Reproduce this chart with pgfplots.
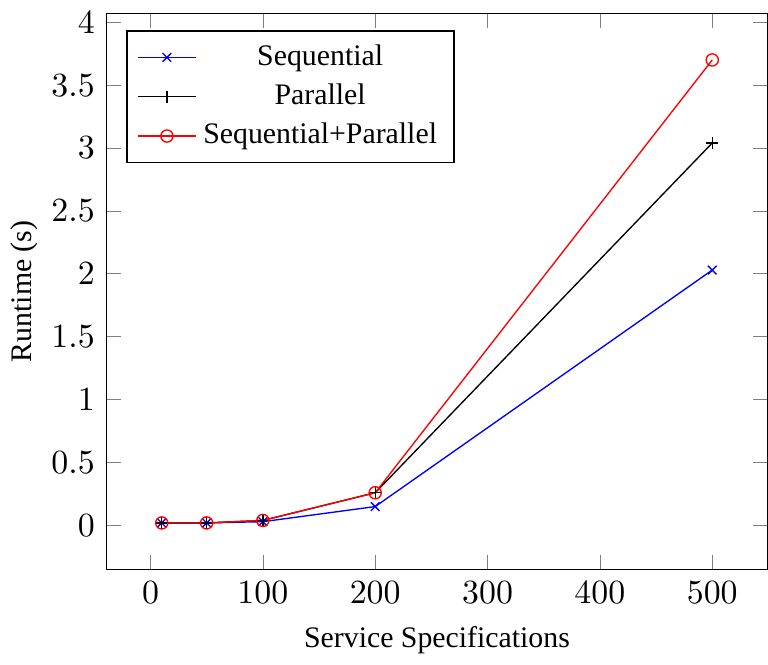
\documentclass[border=0pt]{standalone}
\usepackage{pgfplots}
\pgfplotsset{compat=1.18}
\usepackage{fontspec}
\setmainfont{Liberation Serif}

\begin{document}
\begin{tikzpicture}
\begin{axis}[
    width=240pt, height=209pt,
    xlabel={Service Specifications},
    ylabel={Runtime (s)},
    label style={font=\fontsize{8.8}{10}\selectfont},
    ylabel style={yshift=-3pt},
    ytick distance=0.5,
    legend pos=north west,
    legend cell align=center,
    legend style={font=\fontsize{8.8}{10}\selectfont},
    every axis plot/.append style={mark size=1.8pt},
]
\addplot[blue, mark=x] coordinates {(10,0.02) (50,0.02) (100,0.03) (200,0.15) (500,2.03)};
\addplot[black, mark=+] coordinates {(10,0.02) (50,0.02) (100,0.04) (200,0.26) (500,3.04)};
\addplot[red, mark=o] coordinates {(10,0.02) (50,0.02) (100,0.04) (200,0.26) (500,3.70)};
\legend{Sequential, Parallel, Sequential+Parallel}
\end{axis}
\end{tikzpicture}
\end{document}
